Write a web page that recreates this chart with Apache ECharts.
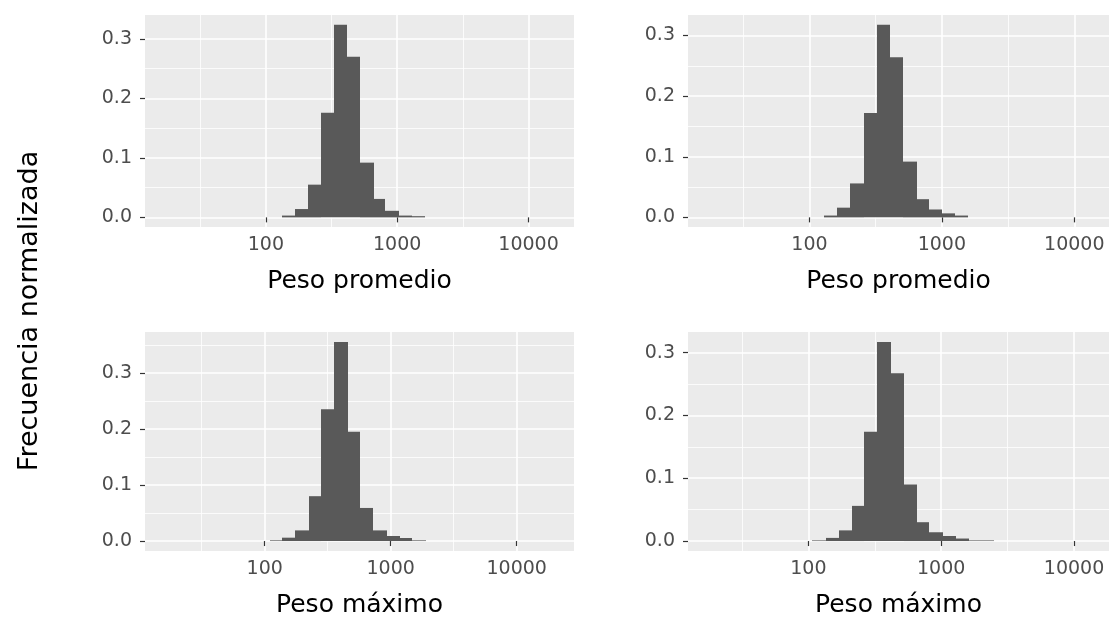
<!DOCTYPE html>
<html>
<head>
<meta charset="utf-8">
<script src="https://cdn.jsdelivr.net/npm/echarts@6/dist/echarts.min.js"></script>
<style>
  html, body { margin: 0; padding: 0; background: #ffffff; }
  #chart { width: 1109px; height: 621px; }
</style>
</head>
<body>
<div id="chart"></div>
<script>
// Histogram bins: edges are log10(weight), values are normalised frequencies.
const promedioEdgesA = [2.12, 2.22, 2.32, 2.42, 2.52, 2.62, 2.72, 2.82, 2.91, 3.01, 3.11, 3.21];
const promedioFreqA  = [0.003, 0.014, 0.055, 0.176, 0.324, 0.270, 0.092, 0.031, 0.011, 0.003, 0.002];

const promedioEdgesB = [2.11, 2.21, 2.31, 2.41, 2.51, 2.61, 2.71, 2.81, 2.90, 3.00, 3.10, 3.20];
const promedioFreqB  = [0.003, 0.016, 0.056, 0.172, 0.318, 0.264, 0.092, 0.030, 0.013, 0.0066, 0.003];

const maximoEdgesA = [2.04, 2.14, 2.24, 2.35, 2.45, 2.55, 2.66, 2.76, 2.86, 2.97, 3.07, 3.17, 3.28];
const maximoFreqA  = [0.0012, 0.006, 0.019, 0.080, 0.235, 0.355, 0.195, 0.059, 0.019, 0.009, 0.0054, 0.0012];

const maximoEdgesB = [2.03, 2.13, 2.23, 2.33, 2.42, 2.52, 2.62, 2.72, 2.82, 2.91, 3.01, 3.11, 3.21, 3.31, 3.40];
const maximoFreqB  = [0.001, 0.005, 0.017, 0.056, 0.174, 0.317, 0.267, 0.090, 0.030, 0.014, 0.008, 0.004, 0.001, 0.001];

// Axis breaks (x breaks are log10 positions; labels show the weight itself)
const xBreaks = [2, 3, 4];
const xMinorBreaks = [1.5, 2.5, 3.5];
const yBreaks = [0, 0.1, 0.2, 0.3];
const yMinorBreaks = [0.05, 0.15, 0.25, 0.35];

const yTitle = 'Frecuencia normalizada';
const xTitles = ['Peso promedio', 'Peso promedio', 'Peso máximo', 'Peso máximo'];

// Panel layout and the visible log10 range of each x axis
const panels = [
  { edges: promedioEdgesA, freq: promedioFreqA, left: 145, top: 15,  width: 429, height: 212, xMin: 1.080, xMax: 4.346 },
  { edges: promedioEdgesB, freq: promedioFreqB, left: 688, top: 15,  width: 421, height: 212, xMin: 1.083, xMax: 4.262 },
  { edges: maximoEdgesA,   freq: maximoFreqA,   left: 145, top: 332, width: 429, height: 219, xMin: 1.050, xMax: 4.455 },
  { edges: maximoEdgesB,   freq: maximoFreqB,   left: 688, top: 332, width: 421, height: 219, xMin: 1.094, xMax: 4.263 }
];

const FONT = 'DejaVu Sans';
const PANEL_BG = '#EBEBEB';
const BAR_FILL = '#595959';

const grids = [], xAxes = [], yAxes = [], series = [];

panels.forEach((p, i) => {
  const peak = Math.max.apply(null, p.freq);
  const yMin = -0.05 * peak;
  const yMax = 1.05 * peak;

  grids.push({
    left: p.left, top: p.top, width: p.width, height: p.height,
    show: true, backgroundColor: PANEL_BG, borderWidth: 0, containLabel: false
  });

  // major x axis: ticks, labels, title and major grid lines
  xAxes.push({
    gridIndex: i, type: 'value', min: p.xMin, max: p.xMax, position: 'bottom',
    axisLine: { show: false },
    axisTick: { show: true, length: 5, customValues: xBreaks, lineStyle: { color: '#333333', width: 1.2 } },
    axisLabel: {
      customValues: xBreaks,
      formatter: v => String(Math.round(Math.pow(10, v))),
      color: '#4D4D4D', fontFamily: FONT, fontSize: 19, margin: 9
    },
    splitLine: { show: true, lineStyle: { color: '#FFFFFF', width: 1.6 } },
    name: xTitles[i], nameLocation: 'middle', nameGap: 42,
    nameTextStyle: { color: '#000000', fontFamily: FONT, fontSize: 25 }
  });
  // minor x grid lines
  xAxes.push({
    gridIndex: i, type: 'value', min: p.xMin, max: p.xMax, position: 'bottom',
    axisLine: { show: false },
    axisTick: { show: false, customValues: xMinorBreaks },
    axisLabel: { show: false },
    splitLine: { show: true, lineStyle: { color: '#FFFFFF', width: 0.8 } }
  });

  yAxes.push({
    gridIndex: i, type: 'value', min: yMin, max: yMax, position: 'left',
    axisLine: { show: false },
    axisTick: { show: true, length: 5, customValues: yBreaks, lineStyle: { color: '#333333', width: 1.2 } },
    axisLabel: {
      customValues: yBreaks,
      formatter: v => v.toFixed(1),
      color: '#4D4D4D', fontFamily: FONT, fontSize: 19, margin: 13
    },
    splitLine: { show: true, lineStyle: { color: '#FFFFFF', width: 1.6 } }
  });
  yAxes.push({
    gridIndex: i, type: 'value', min: yMin, max: yMax, position: 'left',
    axisLine: { show: false },
    axisTick: { show: false, customValues: yMinorBreaks.filter(v => v < yMax) },
    axisLabel: { show: false },
    splitLine: { show: true, lineStyle: { color: '#FFFFFF', width: 0.8 } }
  });

  const bins = p.freq.map((f, k) => [p.edges[k], p.edges[k + 1], f]);

  series.push({
    type: 'custom',
    xAxisIndex: 2 * i,
    yAxisIndex: 2 * i,
    silent: true,
    encode: { x: [0, 1], y: 2 },
    data: bins,
    renderItem: (params, api) => {
      const topLeft = api.coord([api.value(0), api.value(2)]);
      const bottomRight = api.coord([api.value(1), 0]);
      // snap bin edges to whole pixels so neighbouring bins meet without seams
      const x0 = Math.round(topLeft[0]);
      const x1 = Math.round(bottomRight[0]);
      const y0 = topLeft[1];
      const y1 = bottomRight[1];
      return {
        type: 'rect',
        shape: { x: x0, y: y0, width: x1 - x0, height: y1 - y0 },
        style: { fill: BAR_FILL }
      };
    }
  });
});

const chart = echarts.init(document.getElementById('chart'), null, { renderer: 'canvas' });
chart.setOption({
  animation: false,
  backgroundColor: '#FFFFFF',
  grid: grids,
  xAxis: xAxes,
  yAxis: yAxes,
  series: series,
  graphic: [{
    type: 'text',
    x: 30, y: 311,
    rotation: Math.PI / 2,
    style: {
      text: yTitle, fill: '#000000',
      font: '27px "' + FONT + '"',
      align: 'center', verticalAlign: 'middle'
    }
  }]
});
</script>
</body>
</html>
